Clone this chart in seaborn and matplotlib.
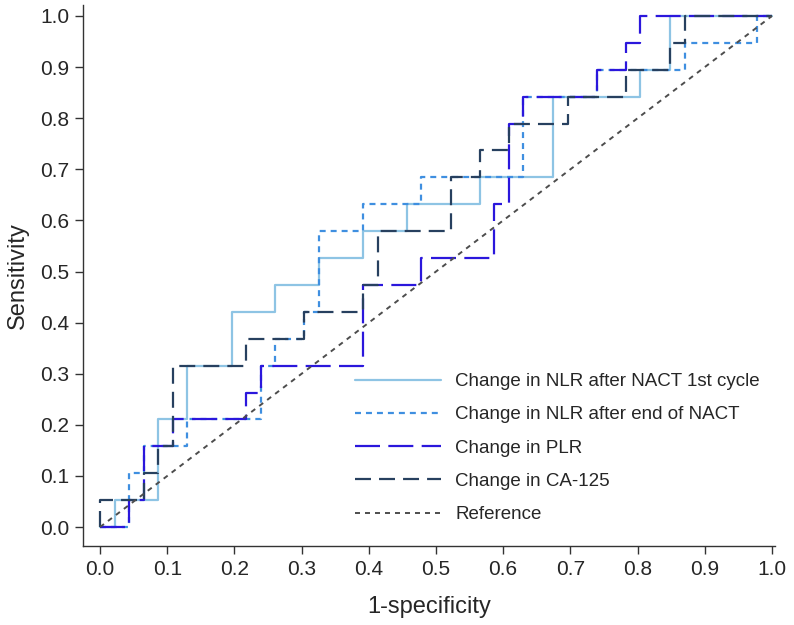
import numpy as np
import pandas as pd
import matplotlib
matplotlib.use("Agg")
import matplotlib.pyplot as plt
import seaborn as sns

# ROC corner points (fpr where the curve jumps, tpr after the jump)
fpr_nlr1 = [0.0, 0.022, 0.087, 0.130, 0.196, 0.261, 0.326, 0.391, 0.457, 0.565, 0.674, 0.804, 0.848, 1.0]
tpr_nlr1 = [0.0, 0.053, 0.211, 0.316, 0.421, 0.474, 0.526, 0.579, 0.632, 0.684, 0.842, 0.895, 1.0, 1.0]

fpr_nlr_end = [0.0, 0.043, 0.065, 0.130, 0.239, 0.261, 0.304, 0.326, 0.391, 0.478, 0.630, 0.739, 0.870, 0.978, 1.0]
tpr_nlr_end = [0.0, 0.105, 0.158, 0.211, 0.316, 0.368, 0.421, 0.579, 0.632, 0.684, 0.842, 0.895, 0.947, 1.0, 1.0]

fpr_plr = [0.0, 0.043, 0.065, 0.109, 0.217, 0.239, 0.391, 0.478, 0.587, 0.609, 0.630, 0.739, 0.783, 0.804, 1.0]
tpr_plr = [0.0, 0.053, 0.158, 0.211, 0.263, 0.316, 0.474, 0.526, 0.632, 0.789, 0.842, 0.895, 0.947, 1.0, 1.0]

fpr_ca125 = [0.0, 0.0, 0.065, 0.087, 0.109, 0.217, 0.304, 0.391, 0.413, 0.522, 0.565, 0.609, 0.696, 0.783, 0.848, 0.870, 1.0]
tpr_ca125 = [0.0, 0.053, 0.105, 0.158, 0.316, 0.368, 0.421, 0.474, 0.579, 0.684, 0.737, 0.789, 0.842, 0.895, 0.947, 1.0, 1.0]

ref_x = [0.0, 1.0]
ref_y = [0.0, 1.0]

labels = ["Change in NLR after NACT 1st cycle", "Change in NLR after end of NACT",
          "Change in PLR", "Change in CA-125", "Reference"]
ticks = [0.0, 0.1, 0.2, 0.3, 0.4, 0.5, 0.6, 0.7, 0.8, 0.9, 1.0]

sns.set_style("white")
plt.rcParams["font.family"] = ["Liberation Sans", "DejaVu Sans"]
plt.rcParams["lines.scale_dashes"] = False

fig = plt.figure(figsize=(7.94, 6.25), dpi=100)
ax = fig.add_axes([83 / 794, 1 - 546 / 625, 692 / 794, 541 / 625])

curves = [
    (fpr_nlr1, tpr_nlr1, "#8ec4e4", "-"),
    (fpr_nlr_end, tpr_nlr_end, "#3f8fe0", (0, (4.3, 3.6))),
    (fpr_plr, tpr_plr, "#2b17dc", (0, (18, 6))),
    (fpr_ca125, tpr_ca125, "#27405f", (0, (11.5, 5.8))),
]
for (x, y, col, ls), lab in zip(curves, labels[:4]):
    df = pd.DataFrame({"fpr": x, "tpr": y})
    sns.lineplot(data=df, x="fpr", y="tpr", estimator=None, sort=False, ax=ax,
                 color=col, linestyle=ls, linewidth=1.6, drawstyle="steps-post", label=lab)

ref = pd.DataFrame({"fpr": ref_x, "tpr": ref_y})
sns.lineplot(data=ref, x="fpr", y="tpr", estimator=None, sort=False, ax=ax,
             color="#4d4d4d", linestyle=(0, (3.6, 3.6)), linewidth=1.4, label=labels[4])

ax.set_xlim(-0.0253, 1.0045)
ax.set_ylim(-0.037, 1.0215)
ax.set_xticks(ticks)
ax.set_yticks(ticks)
ax.set_xticklabels([f"{t:.1f}" for t in ticks])
ax.set_yticklabels([f"{t:.1f}" for t in ticks])
ax.tick_params(axis="both", which="major", labelsize=15, length=6, width=1,
               color="#333333", direction="out", bottom=True, left=True, pad=4)
for s in ["top", "right"]:
    ax.spines[s].set_visible(False)
for s in ["left", "bottom"]:
    ax.spines[s].set_color("#333333")
    ax.spines[s].set_linewidth(1)

ax.set_xlabel("1-specificity", fontsize=17, labelpad=12)
ax.set_ylabel("Sensitivity", fontsize=17, labelpad=8)

leg = ax.legend(loc="upper left", bbox_to_anchor=(355 / 794, 1 - 373 / 625),
                bbox_transform=fig.transFigure, frameon=False, fontsize=13.5,
                handlelength=4.6, handletextpad=0.75, labelspacing=0.86,
                borderpad=0, borderaxespad=0)

fig.savefig("out.png", dpi=100)
